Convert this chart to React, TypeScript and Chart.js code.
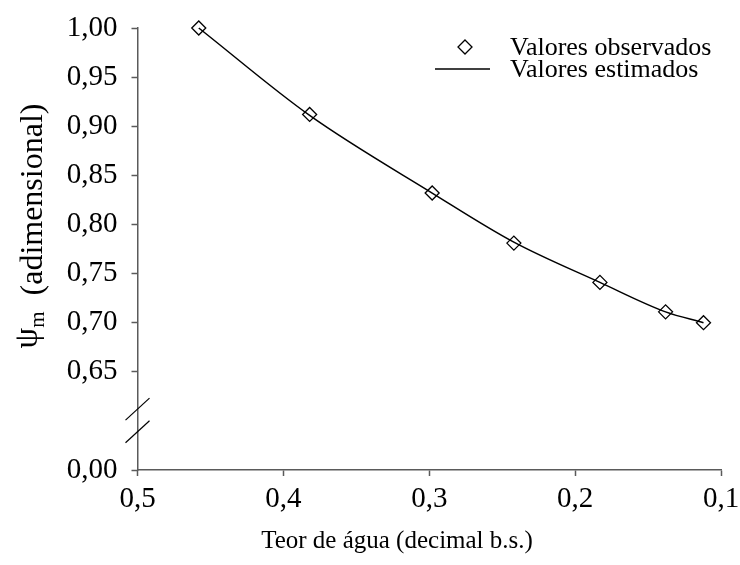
import React, { useEffect, useRef } from 'react';
import { Chart, registerables } from 'chart.js';

Chart.register(...registerables);

// ---- data ----
const moisture = [0.458, 0.382, 0.298, 0.242, 0.183, 0.138, 0.112];
const observed = [1.0, 0.912, 0.832, 0.781, 0.741, 0.711, 0.7];
const estimated = [1.0, 0.911, 0.832, 0.782, 0.741, 0.711, 0.7];
const xTickValues = [0.5, 0.4, 0.3, 0.2, 0.1];
const yTickValues = [1.0, 0.95, 0.9, 0.85, 0.8, 0.75, 0.7, 0.65];
const yZeroSlot = 0.55; // position on the broken axis that is labelled 0,00
const yZeroLabel = '0,00';
const yBreakValues = [0.612, 0.589];
const xTitle = 'Teor de água (decimal b.s.)';
const yTitleSymbol = 'ψ';
const yTitleSub = 'm';
const yTitleRest = '(adimensional)';
const legendObserved = 'Valores observados';
const legendEstimated = 'Valores estimados';

const FONT = '"Liberation Serif", "Times New Roman", serif';
const AXIS = '#5a5a5a';
const fmt = (v: number, d: number) => v.toFixed(d).replace('.', ',');

export default function App() {
  const ref = useRef<HTMLCanvasElement | null>(null);

  useEffect(() => {
    if (!ref.current) return;

    const extras = {
      id: 'extras',
      afterDraw(chart: any) {
        const ctx = chart.ctx as CanvasRenderingContext2D;
        const ys = chart.scales.y;
        const left = chart.chartArea.left;

        // axis break marks
        ctx.save();
        ctx.strokeStyle = '#000';
        ctx.lineWidth = 1.2;
        yBreakValues.forEach((v) => {
          const yc = ys.getPixelForValue(v);
          ctx.beginPath();
          ctx.moveTo(left - 12, yc + 11);
          ctx.lineTo(left + 12, yc - 11);
          ctx.stroke();
        });
        ctx.restore();

        // x axis title
        ctx.save();
        ctx.fillStyle = '#000';
        ctx.font = `25px ${FONT}`;
        ctx.textAlign = 'center';
        ctx.textBaseline = 'middle';
        ctx.fillText(xTitle, 397, 541);
        ctx.restore();

        // y axis title with subscript
        ctx.save();
        ctx.fillStyle = '#000';
        ctx.translate(42, 226);
        ctx.rotate(-Math.PI / 2);
        ctx.textBaseline = 'alphabetic';
        const f1 = `33px ${FONT}`;
        const f2 = `21px ${FONT}`;
        const f3 = `32px ${FONT}`;
        ctx.font = f1;
        const w1 = ctx.measureText(yTitleSymbol).width;
        ctx.font = f2;
        const w2 = ctx.measureText(yTitleSub).width;
        ctx.font = f3;
        const gap = 16;
        const w3 = ctx.measureText(yTitleRest).width;
        const total = w1 + w2 + gap + w3;
        let x = -total / 2;
        ctx.font = f1;
        ctx.fillText(yTitleSymbol, x, -5);
        x += w1;
        ctx.font = f2;
        ctx.fillText(yTitleSub, x, 2);
        x += w2 + gap;
        ctx.font = f3;
        ctx.fillText(yTitleRest, x, 0);
        ctx.restore();

        // legend
        ctx.save();
        ctx.strokeStyle = '#000';
        ctx.lineWidth = 1.3;
        const dx = 465, dy = 47, r = 7;
        ctx.beginPath();
        ctx.moveTo(dx, dy - r);
        ctx.lineTo(dx + r, dy);
        ctx.lineTo(dx, dy + r);
        ctx.lineTo(dx - r, dy);
        ctx.closePath();
        ctx.stroke();
        ctx.lineWidth = 1.5;
        ctx.beginPath();
        ctx.moveTo(435, 69);
        ctx.lineTo(490, 69);
        ctx.stroke();
        ctx.fillStyle = '#000';
        ctx.font = `26px ${FONT}`;
        ctx.textBaseline = 'alphabetic';
        ctx.textAlign = 'left';
        ctx.fillText(legendObserved, 510, 55);
        ctx.fillText(legendEstimated, 510, 77);
        ctx.restore();
      },
    };

    const tickFont = { family: FONT, size: 29 };

    const chart = new Chart(ref.current, {
      type: 'scatter',
      data: {
        datasets: [
          {
            label: legendEstimated,
            data: moisture.map((x, i) => ({ x, y: estimated[i] })),
            showLine: true,
            borderColor: '#000',
            borderWidth: 1.5,
            pointRadius: 0,
            cubicInterpolationMode: 'monotone',
            clip: false,
            order: 0,
          } as any,
          {
            label: legendObserved,
            data: moisture.map((x, i) => ({ x, y: observed[i] })),
            showLine: false,
            pointStyle: 'rectRot',
            pointRadius: 7,
            borderColor: '#000',
            backgroundColor: 'rgba(255,255,255,0)',
            borderWidth: 1.3,
            clip: false,
            order: 1,
          } as any,
        ],
      },
      options: {
        animation: false,
        responsive: false,
        devicePixelRatio: 1,
        layout: { padding: { top: 28, right: 19, left: 0, bottom: 0 } },
        plugins: { legend: { display: false }, tooltip: { enabled: false } },
        scales: {
          x: {
            type: 'linear',
            reverse: true,
            min: 0.1,
            max: 0.5,
            afterBuildTicks: (s: any) => {
              s.ticks = xTickValues.map((v) => ({ value: v }));
            },
            afterFit: (s: any) => {
              s.height = 95;
              s.paddingLeft = 0;
              s.paddingRight = 0;
            },
            ticks: {
              callback: (v: any) => fmt(Number(v), 1),
              font: tickFont,
              color: '#000',
              padding: 6,
              maxRotation: 0,
              autoSkip: false,
            },
            grid: {
              drawOnChartArea: false,
              drawTicks: true,
              tickLength: 6,
              tickColor: AXIS,
              tickWidth: 1.5,
            },
            border: { display: true, color: AXIS, width: 1.5 },
            title: { display: false },
          },
          y: {
            type: 'linear',
            min: yZeroSlot,
            max: 1.0,
            afterBuildTicks: (s: any) => {
              s.ticks = [yZeroSlot, ...yTickValues].map((v) => ({ value: v }));
            },
            afterFit: (s: any) => {
              s.width = 137.5;
              s.paddingTop = 0;
              s.paddingBottom = 0;
            },
            ticks: {
              callback: (v: any) =>
                Math.abs(Number(v) - yZeroSlot) < 1e-6 ? yZeroLabel : fmt(Number(v), 2),
              font: tickFont,
              color: '#000',
              padding: 14,
              autoSkip: false,
            },
            grid: {
              drawOnChartArea: false,
              drawTicks: true,
              tickLength: 6,
              tickColor: AXIS,
              tickWidth: 1.5,
            },
            border: { display: true, color: AXIS, width: 1.5 },
          },
        },
      } as any,
      plugins: [extras],
    });

    return () => chart.destroy();
  }, []);

  return (
    <div style={{ position: 'fixed', left: 0, top: 0, width: 740, height: 565, background: '#fff' }}>
      <canvas ref={ref} width={740} height={565} />
    </div>
  );
}
